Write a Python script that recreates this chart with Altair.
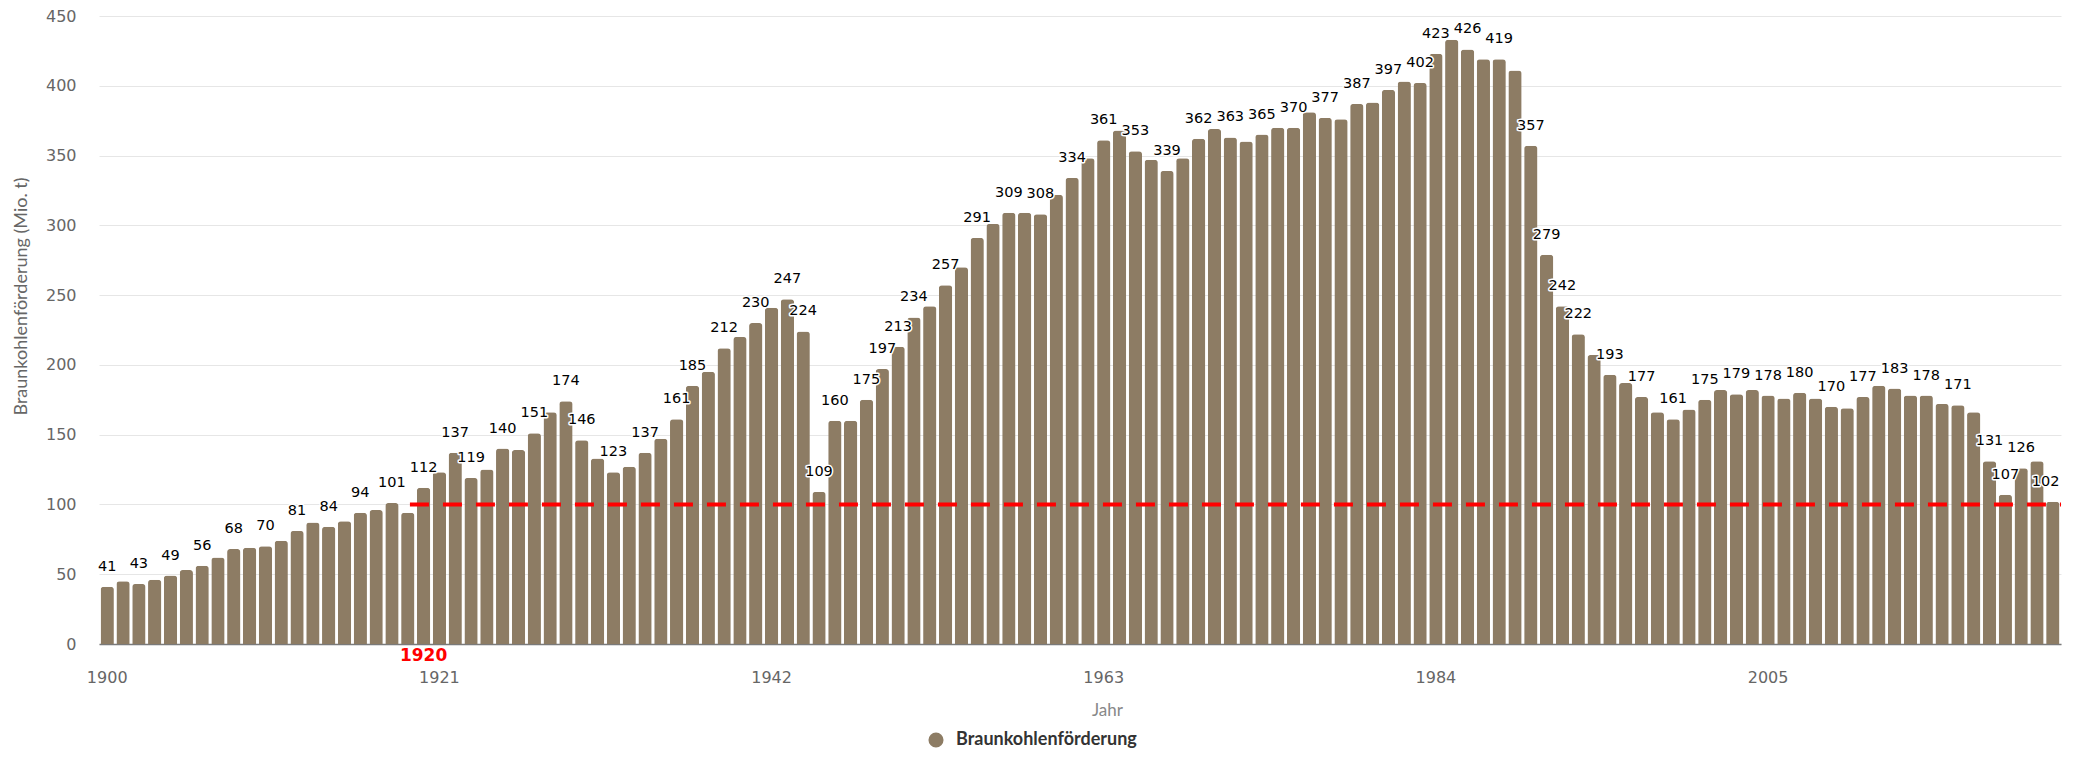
import altair as alt
import pandas as pd

# ---------------- data ----------------
years = list(range(1900, 2024))
values = [
    41, 45, 43, 46, 49, 53, 56, 62, 68, 69,          # 1900-1909
    70, 74, 81, 87, 84, 88, 94, 96, 101, 94,         # 1910-1919
    112, 123, 137, 119, 125, 140, 139, 151, 166, 174,  # 1920-1929
    146, 133, 123, 127, 137, 147, 161, 185, 195, 212,  # 1930-1939
    220, 230, 241, 247, 224, 109, 160, 160, 175, 197,  # 1940-1949
    213, 234, 242, 257, 270, 291, 301, 309, 309, 308,  # 1950-1959
    322, 334, 348, 361, 368, 353, 347, 339, 348, 362,  # 1960-1969
    369, 363, 360, 365, 370, 370, 381, 377, 376, 387,  # 1970-1979
    388, 397, 403, 402, 423, 433, 426, 419, 419, 411,  # 1980-1989
    357, 279, 242, 222, 207, 193, 187, 177, 166, 161,  # 1990-1999
    168, 175, 182, 179, 182, 178, 176, 180, 176, 170,  # 2000-2009
    169, 177, 185, 183, 178, 178, 172, 171, 166, 131,  # 2010-2019
    107, 126, 131, 102,                               # 2020-2023
]
label_years = [
    1900, 1902, 1904, 1906, 1908, 1910, 1912, 1914, 1916, 1918,
    1920, 1922, 1923, 1925, 1927, 1929, 1930, 1932, 1934, 1936,
    1937, 1939, 1941, 1943, 1944, 1945, 1946, 1948, 1949, 1950,
    1951, 1953, 1955, 1957, 1959, 1961, 1963, 1965, 1967, 1969,
    1971, 1973, 1975, 1977, 1979, 1981, 1983, 1984, 1986, 1988,
    1990, 1991, 1992, 1993, 1995, 1997, 1999, 2001, 2003, 2005,
    2007, 2009, 2011, 2013, 2015, 2017, 2019, 2020, 2021, 2023,
]
x_tick_years = [1900, 1921, 1942, 1963, 1984, 2005]
y_ticks = [0, 50, 100, 150, 200, 250, 300, 350, 400, 450]
series_name = "Braunkohlenförderung"
threshold_year = 1920
threshold_value = 100

BAR_COLOR = "#8d7c64"
RED = "#ff0000"
last_year = years[-1]

df = pd.DataFrame({"Jahr": years, "Wert": values, "Reihe": series_name})
df["Beschriftet"] = df["Jahr"].isin(label_years)
df["Text"] = df["Wert"].map(lambda v: f"{v:d}")

ref_df = pd.DataFrame({"Jahr": [threshold_year], "Wert": [threshold_value]})

x_scale = alt.Scale(domain=years, paddingInner=0.16, paddingOuter=0.1)
y_scale = alt.Scale(domain=[0, 450], nice=False)

x_axis = alt.Axis(
    values=x_tick_years, labelAngle=0, ticks=False, grid=False,
    domainColor="#7a7a7a", domainWidth=1.5,
    labelFont="DejaVu Sans", labelFontSize=16, labelColor="#666666",
    labelPadding=33, labelBaseline="middle",
    title="Jahr", titleFont="Lato", titleFontSize=17,
    titleFontWeight="normal", titleColor="#888888",
    titleX=1008, titleY=66, titleAlign="center", titleBaseline="middle",
)
y_axis = alt.Axis(
    values=y_ticks, grid=True, gridColor="#e6e6e6", gridWidth=1,
    domain=False, ticks=False,
    labelFont="DejaVu Sans", labelFontSize=16, labelColor="#666666",
    labelPadding=23,
    title="Braunkohlenförderung (Mio. t)", titleFont="Lato",
    titleFontSize=18, titleFontWeight="normal", titleColor="#666666",
    titleX=-78, titleY=280, titleAngle=270,
    titleAlign="center", titleBaseline="middle",
)

X = alt.X("Jahr:O", scale=x_scale, axis=x_axis)
Y = alt.Y("Wert:Q", scale=y_scale, axis=y_axis)

base = alt.Chart(df)

bars = base.mark_bar(
    cornerRadiusTopLeft=3, cornerRadiusTopRight=3
).encode(
    x=X,
    y=Y,
    color=alt.Color(
        "Reihe:N",
        scale=alt.Scale(range=[BAR_COLOR]),
        legend=alt.Legend(
            title=None, orient="none", legendX=828, legendY=715,
            symbolType="circle", symbolSize=227, symbolStrokeWidth=0,
            symbolOpacity=1, labelFont="Lato", labelFontSize=18,
            labelFontWeight="bold", labelColor="#333333", labelOffset=11,
            labelLimit=0, padding=0,
        ),
    ),
)

label_filter = f"datum.Beschriftet && datum.Jahr != {last_year}"
last_filter = f"datum.Jahr == {last_year}"

txt_props = dict(font="DejaVu Sans", fontSize=14.5, fontWeight="normal",
                 baseline="alphabetic", dy=-16)

labels_bg = base.transform_filter(label_filter).mark_text(
    **txt_props, fill="white", stroke="white", strokeWidth=3, strokeJoin="round"
).encode(x=X, y=Y, text="Text:N")
labels_fg = base.transform_filter(label_filter).mark_text(
    **txt_props, fill="#000000"
).encode(x=X, y=Y, text="Text:N")

last_x = alt.X("Jahr:O", scale=x_scale, axis=x_axis, bandPosition=1)
last_bg = base.transform_filter(last_filter).mark_text(
    **txt_props, align="right", fill="white", stroke="white", strokeWidth=3,
    strokeJoin="round"
).encode(x=last_x, y=Y, text="Text:N")
last_fg = base.transform_filter(last_filter).mark_text(
    **txt_props, align="right", fill="#000000"
).encode(x=last_x, y=Y, text="Text:N")

ref_rule = alt.Chart(ref_df).mark_rule(
    color=RED, strokeWidth=4, strokeDash=[19, 14], xOffset=-7
).encode(
    x=alt.X("Jahr:O", scale=x_scale, axis=x_axis, bandPosition=0),
    x2=alt.value("width"),
    y=Y,
)

ref_text = alt.Chart(ref_df).mark_text(
    font="DejaVu Sans", fontWeight="bold", fontSize=17, color=RED,
    baseline="middle", dy=12
).encode(
    x=X,
    y=alt.value("height"),
    text=alt.Text("Jahr:N"),
)

chart = alt.layer(
    bars, ref_rule, labels_bg, labels_fg, last_bg, last_fg, ref_text
).properties(
    width=1962, height=628,
    padding={"left": 91, "top": 8, "right": 5, "bottom": 108},
    autosize=alt.AutoSizeParams(type="none"),
).configure_view(stroke=None)

chart.save("out.html", embed_options={"renderer": "svg", "actions": False})
